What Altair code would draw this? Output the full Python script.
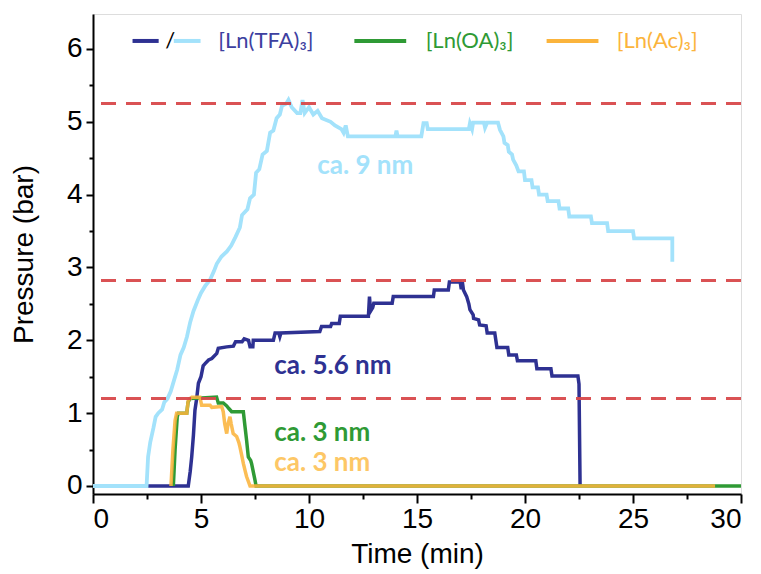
import altair as alt
import pandas as pd

# ---- data (time in min, pressure in bar) ----
tfa9_t = [0, 2.48, 2.55, 2.65, 2.8, 2.9, 3.02, 3.2, 3.3, 3.45, 3.6, 3.75, 3.9, 4.05, 4.2, 4.35, 4.5, 4.65,
          4.85, 5.0, 5.2, 5.42, 5.6, 5.73, 5.95, 6.2, 6.4, 6.6, 6.8, 6.9, 7.15, 7.27, 7.45, 7.55, 7.7, 7.85,
          8.05, 8.2, 8.35, 8.5, 8.65, 8.75, 8.95, 9.05, 9.2, 9.45, 9.6, 9.7, 9.8, 10.0, 10.2, 10.4, 10.6,
          11.0, 11.2, 11.5, 11.6, 11.7, 11.8, 14.0, 14.05, 14.1, 15.2, 15.3, 15.45, 15.5, 17.4, 17.45,
          17.55, 17.6, 18.1, 18.15, 18.25, 18.75, 18.84, 19.0, 19.05, 19.2, 19.25, 19.4, 19.45, 19.6,
          19.7, 19.95, 20.0, 20.3, 20.35, 20.6, 20.65, 21.0, 21.05, 21.55, 21.6, 22.0, 22.05, 23.05,
          23.1, 23.8, 23.85, 25.0, 25.05, 26.82, 26.82]
tfa9_p = [0, 0, 0.4, 0.6, 0.8, 0.95, 1.0, 1.05, 1.15, 1.2, 1.3, 1.45, 1.6, 1.8, 1.9, 2.05, 2.25, 2.4,
          2.55, 2.65, 2.75, 2.83, 2.95, 3.05, 3.15, 3.22, 3.3, 3.42, 3.55, 3.72, 3.8, 3.95, 4.0, 4.3, 4.35,
          4.55, 4.6, 4.85, 4.88, 5.05, 5.1, 5.22, 5.25, 5.3, 5.2, 5.12, 5.12, 5.3, 5.12, 5.2, 5.1, 5.15,
          5.05, 5.0, 4.95, 4.9, 4.85, 4.95, 4.8, 4.8, 4.88, 4.8, 4.8, 4.98, 4.98, 4.9, 4.9, 4.98, 4.9,
          4.99, 4.99, 4.92, 4.99, 4.99, 4.89, 4.8, 4.71, 4.68, 4.59, 4.55, 4.48, 4.4, 4.32, 4.32, 4.2,
          4.2, 4.1, 4.1, 4.0, 4.0, 3.91, 3.91, 3.81, 3.81, 3.7, 3.7, 3.61, 3.61, 3.5, 3.5, 3.4, 3.4, 3.08]

tfa56_t = [0, 4.41, 4.5, 4.57, 4.65, 4.72, 4.8, 4.88, 5.0, 5.1, 5.19, 5.35, 5.5, 5.73, 5.8, 6.19, 6.5,
           6.6, 6.9, 7.0, 7.2, 7.27, 7.4, 7.42, 8.35, 8.43, 8.6, 8.65, 8.7, 10.5, 10.58, 11.0, 11.05,
           11.4, 11.45, 12.75, 12.8, 12.85, 12.95, 13.0, 13.85, 13.9, 15.76, 15.8, 16.45, 16.5, 17.0,
           17.05, 17.1, 17.15, 17.3, 17.4, 17.45, 17.6, 17.62, 17.85, 17.9, 18.2, 18.25, 18.6, 18.65,
           18.7, 19.2, 19.25, 19.6, 19.65, 20.5, 20.55, 21.2, 21.25, 22.45, 22.5, 22.55]
tfa56_p = [0, 0, 0.2, 0.4, 0.7, 1.04, 1.2, 1.41, 1.5, 1.65, 1.68, 1.73, 1.75, 1.82, 1.89, 1.91, 1.92,
           1.98, 1.98, 2.02, 2.0, 1.91, 1.91, 2.0, 2.0, 2.1, 2.1, 2.05, 2.1, 2.12, 2.19, 2.19, 2.23,
           2.23, 2.33, 2.33, 2.6, 2.4, 2.45, 2.51, 2.51, 2.6, 2.6, 2.69, 2.69, 2.8, 2.8,
           2.7, 2.8, 2.69, 2.6, 2.5, 2.42, 2.35, 2.3, 2.28, 2.21, 2.2, 2.1, 2.1, 2.0,
           1.9, 1.9, 1.8, 1.8, 1.72, 1.72, 1.61, 1.61, 1.51, 1.51, 1.4, 0]

oa_t = [3.72, 3.8, 3.9, 3.95, 4.34, 4.4, 4.49, 5.72, 5.8, 6.03, 6.19, 6.3, 6.42, 6.96, 7.04, 7.11,
        7.19, 7.3, 7.34, 7.5, 7.55, 30]
oa_p = [0, 0.5, 0.95, 1.0, 1.0, 1.15, 1.2, 1.22, 1.14, 1.14, 1.1, 1.06, 1.02, 1.02, 0.81, 0.63,
        0.4, 0.35, 0.31, 0.08, 0, 0]

ac_t = [3.61, 3.7, 3.8, 3.87, 4.34, 4.41, 4.57, 4.95, 5.03, 5.42, 5.5, 5.96, 6.03, 6.1, 6.19, 6.25,
        6.34, 6.4, 6.49, 6.65, 6.75, 6.8, 6.9, 6.96, 7.05, 7.11, 7.27, 28.8]
ac_p = [0, 0.5, 0.9, 1.0, 1.0, 1.18, 1.22, 1.22, 1.11, 1.11, 1.08, 1.09, 1.02, 0.85, 0.72, 0.85,
        0.95, 0.85, 0.72, 0.68, 0.6, 0.54, 0.4, 0.31, 0.2, 0.13, 0, 0]

ref_levels = [5.25, 2.82, 1.2]

x_major = [0, 5, 10, 15, 20, 25, 30]
x_minor = [2.5, 7.5, 12.5, 17.5, 22.5, 27.5]
y_major = [0, 1, 2, 3, 4, 5, 6]
y_minor = [0.5, 1.5, 2.5, 3.5, 4.5, 5.5]

label_text = ["ca. 9 nm", "ca. 5.6 nm", "ca. 3 nm", "ca. 3 nm"]
label_t = [10.38, 8.39, 8.39, 8.39]
label_p = [4.39, 1.65, 0.73, 0.32]

legend_text = ["[Ln(TFA)\u2083]", "[Ln(OA)\u2083]", "[Ln(Ac)\u2083]"]

C_DARK = "#2e3192"
C_LIGHT = "#a3e2fb"
C_GREEN = "#2f9a35"
C_ORANGE = "#fbb43c"
C_RED = "#d8494b"

XDOM = [0, 30]
YDOM = [-0.11, 6.48]

xs = alt.Scale(domain=XDOM, nice=False, zero=False)
ys = alt.Scale(domain=YDOM, nice=False, zero=False)

AX_FONT = "Liberation Sans"
AX_SIZE = 28

x_axis = alt.Axis(values=x_major, orient="bottom", title="Time (min)", grid=False, tickSize=9,
                  tickWidth=2, domainWidth=2, domainColor="black", tickColor="black",
                  labelColor="black", labelFont=AX_FONT, labelFontSize=AX_SIZE, titleFont=AX_FONT,
                  titleFontSize=AX_SIZE, titleFontWeight="normal", titleColor="black", labelPadding=2,
                  titlePadding=7, format="d")
y_axis = alt.Axis(values=y_major, orient="left", title="Pressure (bar)", grid=False, tickSize=7,
                  tickWidth=2, domainWidth=2, domainColor="black", tickColor="black",
                  labelColor="black", labelFont=AX_FONT, labelFontSize=AX_SIZE, titleFont=AX_FONT,
                  titleFontSize=AX_SIZE, titleFontWeight="normal", titleColor="black", labelPadding=4,
                  titlePadding=28, format="d")
x_axis_minor = alt.Axis(values=x_minor, orient="bottom", title=None, labels=False, domain=False,
                        grid=False, tickSize=5, tickWidth=2, tickColor="black")
y_axis_minor = alt.Axis(values=y_minor, orient="left", title=None, labels=False, domain=False,
                        grid=False, tickSize=4, tickWidth=2, tickColor="black")


def series_df(t, p):
    return pd.DataFrame({"t": t, "p": p, "i": list(range(len(t)))})


def line_layer(t, p, color, opacity=1.0, width=3.5):
    return alt.Chart(series_df(t, p)).mark_line(
        color=color, strokeWidth=width, opacity=opacity, strokeJoin="miter"
    ).encode(
        x=alt.X("t:Q", scale=xs, axis=x_axis),
        y=alt.Y("p:Q", scale=ys, axis=y_axis),
        order=alt.Order("i:Q"),
    )


base_axes = alt.Chart(pd.DataFrame({"t": [0], "p": [0]})).mark_point(opacity=0).encode(
    x=alt.X("t:Q", scale=xs, axis=x_axis),
    y=alt.Y("p:Q", scale=ys, axis=y_axis),
)

minor_axes = alt.Chart(pd.DataFrame({"t": [0], "p": [0]})).mark_point(opacity=0).encode(
    x=alt.X("t:Q", scale=xs, axis=x_axis_minor),
    y=alt.Y("p:Q", scale=ys, axis=y_axis_minor),
)

l_dark = line_layer(tfa56_t, tfa56_p, C_DARK)
l_light = line_layer(tfa9_t, tfa9_p, C_LIGHT, width=3.8)
l_green = line_layer(oa_t, oa_p, C_GREEN)
l_orange = line_layer(ac_t, ac_p, C_ORANGE, opacity=0.88)

refs = alt.Chart(pd.DataFrame({"p": ref_levels})).mark_rule(
    color=C_RED, strokeWidth=3, strokeDash=[15, 10], opacity=0.95
).encode(y=alt.Y("p:Q", scale=ys, axis=y_axis))

labels_df = pd.DataFrame({"t": label_t, "p": label_p, "txt": label_text,
                          "c": [C_LIGHT, C_DARK, C_GREEN, "#fdc766"]})
labels = alt.Chart(labels_df).mark_text(
    align="left", baseline="middle", font="Lato", fontWeight="bold", fontSize=26
).encode(
    x=alt.X("t:Q", scale=xs, axis=x_axis),
    y=alt.Y("p:Q", scale=ys, axis=y_axis),
    text="txt:N",
    color=alt.Color("c:N", scale=None),
)

# custom legend (positions in data space)
leg_y = 6.11
leg_seg = pd.DataFrame({
    "t": [1.83, 3.74, 12.1, 21.0],
    "t2": [3.04, 4.98, 14.5, 23.4],
    "p": [leg_y] * 4,
    "c": [C_DARK, C_LIGHT, C_GREEN, C_ORANGE],
})
leg_lines = alt.Chart(leg_seg).mark_rule(strokeWidth=4).encode(
    x=alt.X("t:Q", scale=xs, axis=x_axis),
    x2="t2:Q",
    y=alt.Y("p:Q", scale=ys, axis=y_axis),
    color=alt.Color("c:N", scale=None),
)
leg_txt_df = pd.DataFrame({
    "t": [3.35, 5.8, 15.4, 24.25],
    "p": [leg_y] * 4,
    "txt": ["/"] + legend_text,
    "c": ["black", "#3d40a0", C_GREEN, C_ORANGE],
})
leg_txt = alt.Chart(leg_txt_df).mark_text(
    align="left", baseline="middle", font="Lato", fontSize=22
).encode(
    x=alt.X("t:Q", scale=xs, axis=x_axis),
    y=alt.Y("p:Q", scale=ys, axis=y_axis),
    text="txt:N",
    color=alt.Color("c:N", scale=None),
)

chart = alt.layer(
    minor_axes,
    alt.layer(base_axes, l_dark, l_light, l_green, l_orange, refs, labels, leg_lines, leg_txt),
).resolve_axis(x="independent", y="independent").properties(
    width=648, height=480,
    autosize=alt.AutoSizeParams(type="none"),
    padding={"left": 93, "top": 14, "right": 20, "bottom": 80},
).configure_view(stroke="black", strokeWidth=2).configure(background="white")

chart.save("out.html", embed_options={"renderer": "svg", "actions": False})
